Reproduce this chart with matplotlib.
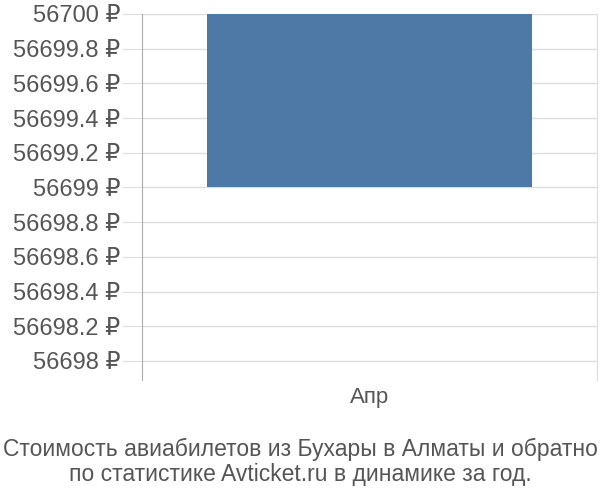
import matplotlib.pyplot as plt
from matplotlib.ticker import FuncFormatter

plt.rcParams['font.family'] = ['Liberation Sans', 'DejaVu Sans']

months = ["Апр"]
price_low = [56699]
price_high = [56700]
yticks = [56698, 56698.2, 56698.4, 56698.6, 56698.8, 56699,
          56699.2, 56699.4, 56699.6, 56699.8, 56700]
title = "Стоимость авиабилетов из Бухары в Алматы и обратно\nпо статистике Avticket.ru в динамике за год."

fig = plt.figure(figsize=(6, 5), dpi=100)
ax = fig.add_axes([142 / 600, 0.24, 455 / 600, 0.732])

heights = [h - l for h, l in zip(price_high, price_low)]
ax.bar(months, heights, bottom=price_low, width=0.714, color='#4e79a7', zorder=3)

ax.set_xlim(-0.5, 0.5)
ax.set_ylim(56697.89, 56700)
ax.set_yticks(yticks)


def fmt(v, pos):
    s = ('%.1f' % v).rstrip('0').rstrip('.')
    return s + ' ₽'


ax.yaxis.set_major_formatter(FuncFormatter(fmt))
ax.grid(axis='y', color='#dddddd', linewidth=1, zorder=0)
ax.tick_params(axis='y', length=14.4, color='#dddddd', labelsize=17, labelcolor='#555555', pad=1)
ax.tick_params(axis='x', length=0, labelsize=16, labelcolor='#555555', pad=5)

for s in ['top', 'bottom']:
    ax.spines[s].set_visible(False)
ax.spines['left'].set_color('#aaaaaa')
ax.spines['right'].set_color('#dddddd')

fig.text(0.5, 0.076, title, ha='center', va='center', fontsize=16.5,
         color='#555555', linespacing=1.15)

fig.savefig('out.png')
